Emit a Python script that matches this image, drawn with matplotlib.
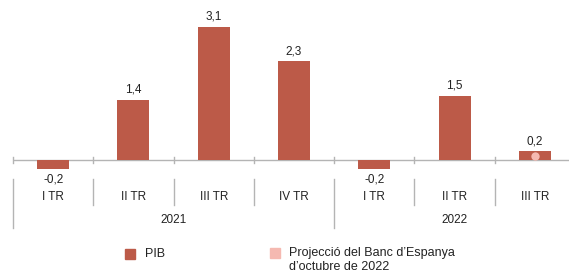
import matplotlib.pyplot as plt
from matplotlib.patches import Rectangle

plt.rcParams['font.family'] = ['Liberation Sans', 'DejaVu Sans']

# dades
trimestres = ['I TR', 'II TR', 'III TR', 'IV TR', 'I TR', 'II TR', 'III TR']
anys = ['2021', '2022']
pib = [-0.2, 1.4, 3.1, 2.3, -0.2, 1.5, 0.2]
projeccio = 0.1  # punt de la projeccio del Banc d'Espanya (III TR 2022)

color_pib = '#bc5a48'
color_proj = '#f5b9b1'
gris = '#b4b4b4'
text_col = '#222222'

W, H = 569, 273
fig = plt.figure(figsize=(W / 100, H / 100), dpi=100)

# eix en pixels: x de 13 a 575, y zero a 160 px des de dalt, 43 px per unitat
ppu = 43.0
y0 = 160
ymin, ymax = -0.35, 3.5
bottom_px = y0 + (-ymin) * ppu
height_px = (ymax - ymin) * ppu
ax = fig.add_axes([13 / W, (H - bottom_px) / H, (575 - 13) / W, height_px / H])
ax.set_xlim(-0.5, 6.5)
ax.set_ylim(ymin, ymax)
ax.axis('off')

x = list(range(len(pib)))
ax.bar(x, pib, width=0.4, color=color_pib, zorder=2)
ax.axhline(0, color=gris, lw=1, zorder=1)

# petits ticks a les fronteres
for b in [i - 0.5 for i in range(len(pib) + 1)]:
    ax.plot([b, b], [-0.07, 0.07], color=gris, lw=1, zorder=1, clip_on=False)

# punt de projeccio
ax.plot([6], [projeccio], 'o', color=color_proj, ms=6, mec='none', zorder=3)

# etiquetes de valor
for xi, v in zip(x, pib):
    lbl = ('%.1f' % v).replace('.', ',')
    off = 10 if v >= 0 else -11
    ax.annotate(lbl, (xi, v), xytext=(0, off * 0.72), textcoords='offset points',
                ha='center', va='center', fontsize=8.5, color=text_col)

def py(px):
    return (y0 - px) / ppu

# separadors i etiquetes de categoria
llargs = [-0.5, 3.5, 6.5]
for b in [i - 0.5 for i in range(len(pib) + 1)]:
    bot = 228 if b in llargs else 205
    ax.plot([b, b], [py(179), py(bot)], color=gris, lw=1, clip_on=False)
for xi, t in zip(x, trimestres):
    ax.text(xi, py(197), t, ha='center', va='center', fontsize=8.5, color=text_col)
ax.text(1.5, py(220), anys[0], ha='center', va='center', fontsize=8.5, color=text_col)
ax.text(5.0, py(220), anys[1], ha='center', va='center', fontsize=8.5, color=text_col)

# llegenda
def fx(px):
    return px / W

def fy(px):
    return (H - px) / H

fig.patches.append(Rectangle((fx(125), fy(259)), 10 / W, 10 / H,
                             transform=fig.transFigure, color=color_pib))
fig.text(fx(145), fy(254), 'PIB', ha='left', va='center', fontsize=9, color=text_col)
fig.patches.append(Rectangle((fx(270), fy(258)), 10 / W, 10 / H,
                             transform=fig.transFigure, color=color_proj))
fig.text(fx(289), fy(253), "Projecció del Banc d’Espanya", ha='left', va='center',
         fontsize=9, color=text_col)
fig.text(fx(289), fy(267), "d’octubre de 2022", ha='left', va='center',
         fontsize=9, color=text_col)

fig.savefig('out.png', dpi=100)
